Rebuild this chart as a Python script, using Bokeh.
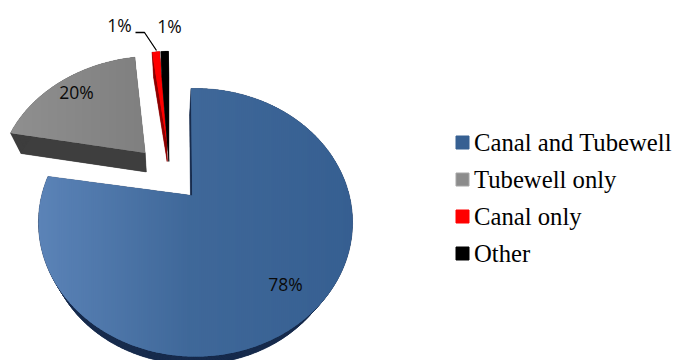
import numpy as np
from bokeh.embed import file_html
from bokeh.models import Range1d
from bokeh.plotting import figure
from bokeh.resources import INLINE
from bokeh.core.properties import value

# Shares of irrigation source, in percent
categories = ["Canal and Tubewell", "Tubewell only", "Canal only", "Other"]
shares = [78, 20, 1, 1]
percent_labels = ["78%", "20%", "1%", "1%"]
legend_colors = ["#376092", "#8c8c8c", "#ff0000", "#000000"]
legend_borders = ["#376092", "#a6a6a6", "#ff0000", "#000000"]
side_colors = ["#182c4d", "#3e3e3e", "#8e0000", "#000000"]

# Disc offset of every slice (explosion) and how each face is shaded across x
offsets = [(0.0, 0.0), (-0.3445, 0.385), (-0.204, 0.45), (-0.193, 0.45)]
apex_nudge = [(-0.0215, 0.0), (-0.006, -0.03), (0.0, 0.0), (0.0, 0.0)]
shade_stops = [
    [(38, "#5b83b7"), (190, "#3f6899"), (352, "#365f91")],
    [(10, "#8f8f8f"), (146, "#7f7f7f")],
    [(0, "#ff0000"), (673, "#ff0000")],
    [(0, "#000000"), (673, "#000000")],
]
FIRST_SLICE_ANGLE = -2.0

# Tilted-disc projection, in page pixels
CX, CY = 195.0, 195.0
RX, RY, TILT = 153.8, 128.6, 0.2015
DEPTH_SCALE, DEPTH_Y = 0.93, 19.0
DEPTH_X = [-1.5, 1.0, 0.5, 0.5]


def project(u, v):
    w = 1 + TILT * v
    return CX + RX * u / w, CY - RY * v / w


def slice_outline(start, stop, off, nudge):
    angles = np.radians(np.linspace(start, stop, max(int((stop - start) * 2), 4) + 1))
    us = np.concatenate([[off[0] + nudge[0]], off[0] + np.sin(angles)])
    vs = np.concatenate([[off[1] + nudge[1]], off[1] + np.cos(angles)])
    return project(us, vs)


def clip_band(xs, ys, x0, x1):
    """Clip a polygon to the vertical band x0..x1 (Sutherland-Hodgman)."""
    pts = list(zip(xs, ys))
    for edge, keep in ((x0, lambda x: x >= x0), (x1, lambda x: x <= x1)):
        out = []
        for i, (ax, ay) in enumerate(pts):
            bx, by = pts[(i + 1) % len(pts)]
            if keep(ax):
                out.append((ax, ay))
            if keep(ax) != keep(bx):
                t = (edge - ax) / (bx - ax)
                out.append((edge, ay + t * (by - ay)))
        pts = out
        if not pts:
            return [], []
    return [q[0] for q in pts], [q[1] for q in pts]


def hex_rgb(c):
    return np.array([int(c[i:i + 2], 16) for i in (1, 3, 5)], dtype=float)


def shade_at(x, stops):
    xp = [s[0] for s in stops]
    rgb = [hex_rgb(s[1]) for s in stops]
    vals = [np.interp(x, xp, [c[k] for c in rgb]) for k in range(3)]
    return "#%02x%02x%02x" % tuple(int(round(a)) for a in vals)


p = figure(width=673, height=360, output_backend="svg", toolbar_location=None,
           x_range=Range1d(0, 673), y_range=Range1d(360, 0), min_border=0,
           outline_line_color=None, background_fill_color="white", border_fill_color="white")
p.axis.visible = False
p.grid.visible = False

total = sum(shares)
angle = FIRST_SLICE_ANGLE
for i, share in enumerate(shares):
    sweep = 360.0 * share / total
    xs, ys = slice_outline(angle, angle + sweep, offsets[i], apex_nudge[i])
    angle += sweep

    # extruded side: a slightly smaller copy of the face lowered under it
    lx = xs[0] + DEPTH_SCALE * (xs - xs[0]) + DEPTH_X[i]
    ly = ys[0] + DEPTH_SCALE * (ys - ys[0]) + DEPTH_Y
    side_x, side_y = [list(lx)], [list(ly)]
    n = len(xs)
    for a in range(n):
        b = (a + 1) % n
        side_x.append([xs[a], xs[b], lx[b], lx[a]])
        side_y.append([ys[a], ys[b], ly[b], ly[a]])
    p.patches(side_x, side_y, fill_color=side_colors[i], line_color=side_colors[i], line_width=0.3)

    # top face, shaded in overlapping vertical bands so no seams show
    x_low, x_high = int(np.floor(np.min(xs))), int(np.ceil(np.max(xs)))
    for x0 in range(x_low, x_high, 2):
        bx, by = clip_band(xs, ys, x0, x0 + 4)
        if bx:
            p.patch(bx, by, fill_color=shade_at(x0 + 1.0, shade_stops[i]), line_color=None)

# percent labels, leader line and legend
label_font = value("Open Sans")
label_x = [285, 76, 119, 169]
label_y = [283, 91.5, 24.5, 25.5]
for t, lx_, ly_ in zip(percent_labels, label_x, label_y):
    p.text([lx_], [ly_], text=[t], text_font=label_font, text_font_size="17.5px",
           text_color="#0a0a0a", text_align="center", text_baseline="middle")
p.line([135, 144, 156], [32, 32, 50], line_color="#000000", line_width=1.3)

row_y = [142, 179, 216, 253]
for name, fc, bc, y in zip(categories, legend_colors, legend_borders, row_y):
    p.quad(left=[455.5], right=[468.5], top=[y - 6.5], bottom=[y + 6.5],
           fill_color=fc, line_color=bc, line_width=1)
    p.text([473.5], [y - 0.5], text=[name], text_font=value("Liberation Serif"), text_font_size="24.7px",
           text_color="#000000", text_align="left", text_baseline="middle")

open("out.html", "w").write(file_html(p, INLINE))
